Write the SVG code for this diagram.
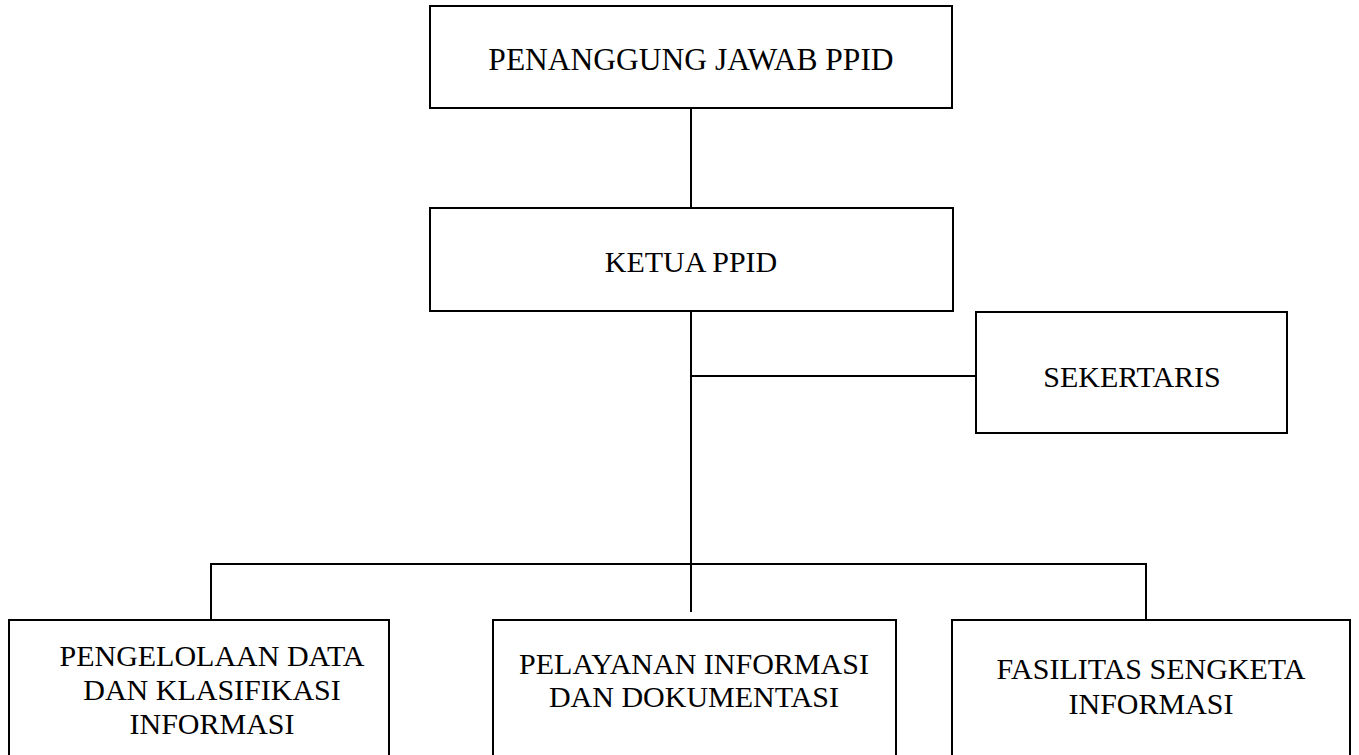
<svg xmlns="http://www.w3.org/2000/svg" width="1359" height="755" viewBox="0 0 1359 755">
<style>
.box{fill:#fff;stroke:#000;stroke-width:2}
.ln{stroke:#000;stroke-width:2;fill:none}
text{font-family:"Liberation Serif","Times New Roman",serif;font-size:30px;fill:#000;text-anchor:middle}
</style>
<rect width="1359" height="755" fill="#fff"/>
<g id="connectors">
<line class="ln" x1="691" y1="108" x2="691" y2="208"/>
<line class="ln" x1="691" y1="311" x2="691" y2="612"/>
<line class="ln" x1="691" y1="376" x2="976" y2="376"/>
<line class="ln" x1="210" y1="564" x2="1147" y2="564"/>
<line class="ln" x1="211" y1="564" x2="211" y2="620"/>
<line class="ln" x1="1146" y1="564" x2="1146" y2="620"/>
</g>
<g id="penanggung">
<rect class="box" x="430" y="6" width="522" height="102"/>
<text x="691" y="70" style="font-size:31.5px">PENANGGUNG JAWAB PPID</text>
</g>
<g id="ketua">
<rect class="box" x="430" y="208" width="523" height="103"/>
<text x="691" y="272">KETUA PPID</text>
</g>
<g id="sekertaris">
<rect class="box" x="976" y="312" width="311" height="121"/>
<text x="1132" y="387">SEKERTARIS</text>
</g>
<g id="pengelolaan">
<rect class="box" x="9" y="620" width="380" height="140"/>
<text x="212" y="666">PENGELOLAAN DATA</text>
<text x="212" y="700">DAN KLASIFIKASI</text>
<text x="212" y="734">INFORMASI</text>
</g>
<g id="pelayanan">
<rect class="box" x="493" y="620" width="403" height="140"/>
<text x="694" y="674">PELAYANAN INFORMASI</text>
<text x="694" y="707">DAN DOKUMENTASI</text>
</g>
<g id="fasilitas">
<rect class="box" x="952" y="620" width="398" height="140"/>
<text x="1151" y="679">FASILITAS SENGKETA</text>
<text x="1151" y="714">INFORMASI</text>
</g>
</svg>
